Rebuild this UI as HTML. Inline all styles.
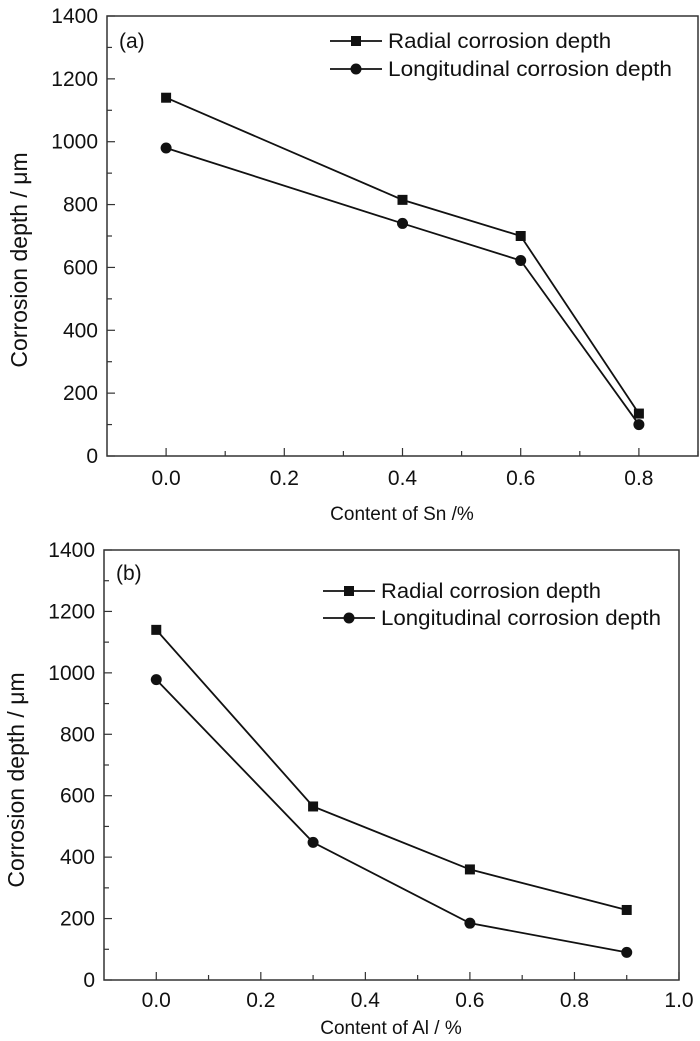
<!DOCTYPE html>
<html><head><meta charset="utf-8"><style>
body{margin:0;background:#fff}
svg{display:block}
text{font-family:"Liberation Sans",Arial,sans-serif;fill:#111}
</style></head><body>
<svg id="c" width="700" height="1041" viewBox="0 0 700 1041"></svg>
<script>
const xValsA=[0,0.4,0.6,0.8];
const radialA=[1140,815,700,135];
const longA=[980,740,622,100];
const xTicksA=["0.0","0.2","0.4","0.6","0.8"];
const xValsB=[0,0.3,0.6,0.9];
const radialB=[1140,565,360,228];
const longB=[978,448,185,90];
const xTicksB=["0.0","0.2","0.4","0.6","0.8","1.0"];
const yTicks=["0","200","400","600","800","1000","1200","1400"];
const NS="http://www.w3.org/2000/svg";
const svg=document.getElementById('c');
function el(t,a,p){const e=document.createElementNS(NS,t);for(const k in a)e.setAttribute(k,a[k]);(p||svg).appendChild(e);return e;}
function panel(cfg){
  const g=el('g',{});
  
  
  const X=v=>cfg.L+(v-cfg.xmin)/(cfg.xmax-cfg.xmin)*(cfg.R-cfg.L);
  const Y=v=>cfg.B-v/1400*(cfg.B-cfg.T);
  const f=el('rect',{x:cfg.L,y:cfg.T,width:cfg.R-cfg.L,height:cfg.B-cfg.T,fill:'none',stroke:'#333','stroke-width':1.5},g);
  
  
  for(let v=0;v<=1400;v+=100){
    const major=v%200===0;
    el('line',{x1:cfg.L,x2:cfg.L+(major?8:5),y1:Y(v),y2:Y(v),stroke:'#333','stroke-width':1.2},g);
  }
  yTicks.forEach(s=>{
    const t=el('text',{x:cfg.L-9,y:Y(+s)+7,'text-anchor':'end','font-size':21},g);t.textContent=s;
    
    
  });
  for(let v=0;v<=cfg.xmax+1e-9;v+=0.1){
    const major=Math.round(v*10)%2===0;
    el('line',{x1:X(v),x2:X(v),y1:cfg.B,y2:cfg.B-(major?8:5),stroke:'#333','stroke-width':1.2},g);
  }
  cfg.xt.forEach(s=>{
    const t=el('text',{x:X(+s),y:cfg.xtY,'text-anchor':'middle','font-size':21},g);t.textContent=s;
    
    
  });
  const xt=el('text',{x:cfg.xtitleX,y:cfg.xtitleY,'text-anchor':'middle','font-size':19},g);xt.textContent=cfg.xtitle;
  
  
  const yt=el('text',{x:0,y:0,'text-anchor':'middle','font-size':23,transform:`translate(${cfg.ytitleX},${cfg.ytitleY}) rotate(-90)`},g);yt.textContent='Corrosion depth / μm';
  
  
  const pl=el('text',{x:cfg.L+12,y:cfg.labY+7,'font-size':21},g);pl.textContent=cfg.label;
  
  
  [[cfg.r,'sq'],[cfg.l,'ci']].forEach(([vals,m])=>{
    const pts=vals.map((v,i)=>X(cfg.xs[i])+','+Y(v)).join(' ');
    const ln=el('polyline',{points:pts,fill:'none',stroke:'#111','stroke-width':1.8},g);
    
    
    vals.forEach((v,i)=>{
      const mk=m==='sq'?el('rect',{x:X(cfg.xs[i])-5,y:Y(v)-5,width:10,height:10,fill:'#111'},g):el('circle',{cx:X(cfg.xs[i]),cy:Y(v),r:5.5,fill:'#111'},g);
      
      
    });
  });
  [['Radial corrosion depth',cfg.leg1,'sq'],['Longitudinal corrosion depth',cfg.leg2,'ci']].forEach(([s,y,m])=>{
    el('line',{x1:cfg.legX,x2:cfg.legX+52,y1:y,y2:y,stroke:'#111','stroke-width':1.8},g);
    const mk=m==='sq'?el('rect',{x:cfg.legX+21,y:y-5,width:10,height:10,fill:'#111'},g):el('circle',{cx:cfg.legX+26,cy:y,r:5.5,fill:'#111'},g);
    
    
    const t=el('text',{x:cfg.legX+58,y:y+7,'font-size':21,textLength:cfg.legW*(s.length/28),lengthAdjust:'spacingAndGlyphs'},g);t.textContent=s;
    
    
  });
}
panel({name:'chart-a-sn',L:107,R:698,T:16,B:456,xmin:-0.1,xmax:0.9,xs:xValsA,r:radialA,l:longA,xt:xTicksA,xtY:485,
  xtitle:'Content of Sn /%',xtitleX:402,xtitleY:520,ytitleX:27,ytitleY:260,label:'(a)',labY:41,legX:330,leg1:41,leg2:69,legW:284});
panel({name:'chart-b-al',L:104,R:679,T:550,B:980,xmin:-0.1,xmax:1.0,xs:xValsB,r:radialB,l:longB,xt:xTicksB,xtY:1007,
  xtitle:'Content of Al / %',xtitleX:391,xtitleY:1034,ytitleX:24,ytitleY:780,label:'(b)',labY:573,legX:323,leg1:591,leg2:618,legW:280});
</script>
</body></html>
